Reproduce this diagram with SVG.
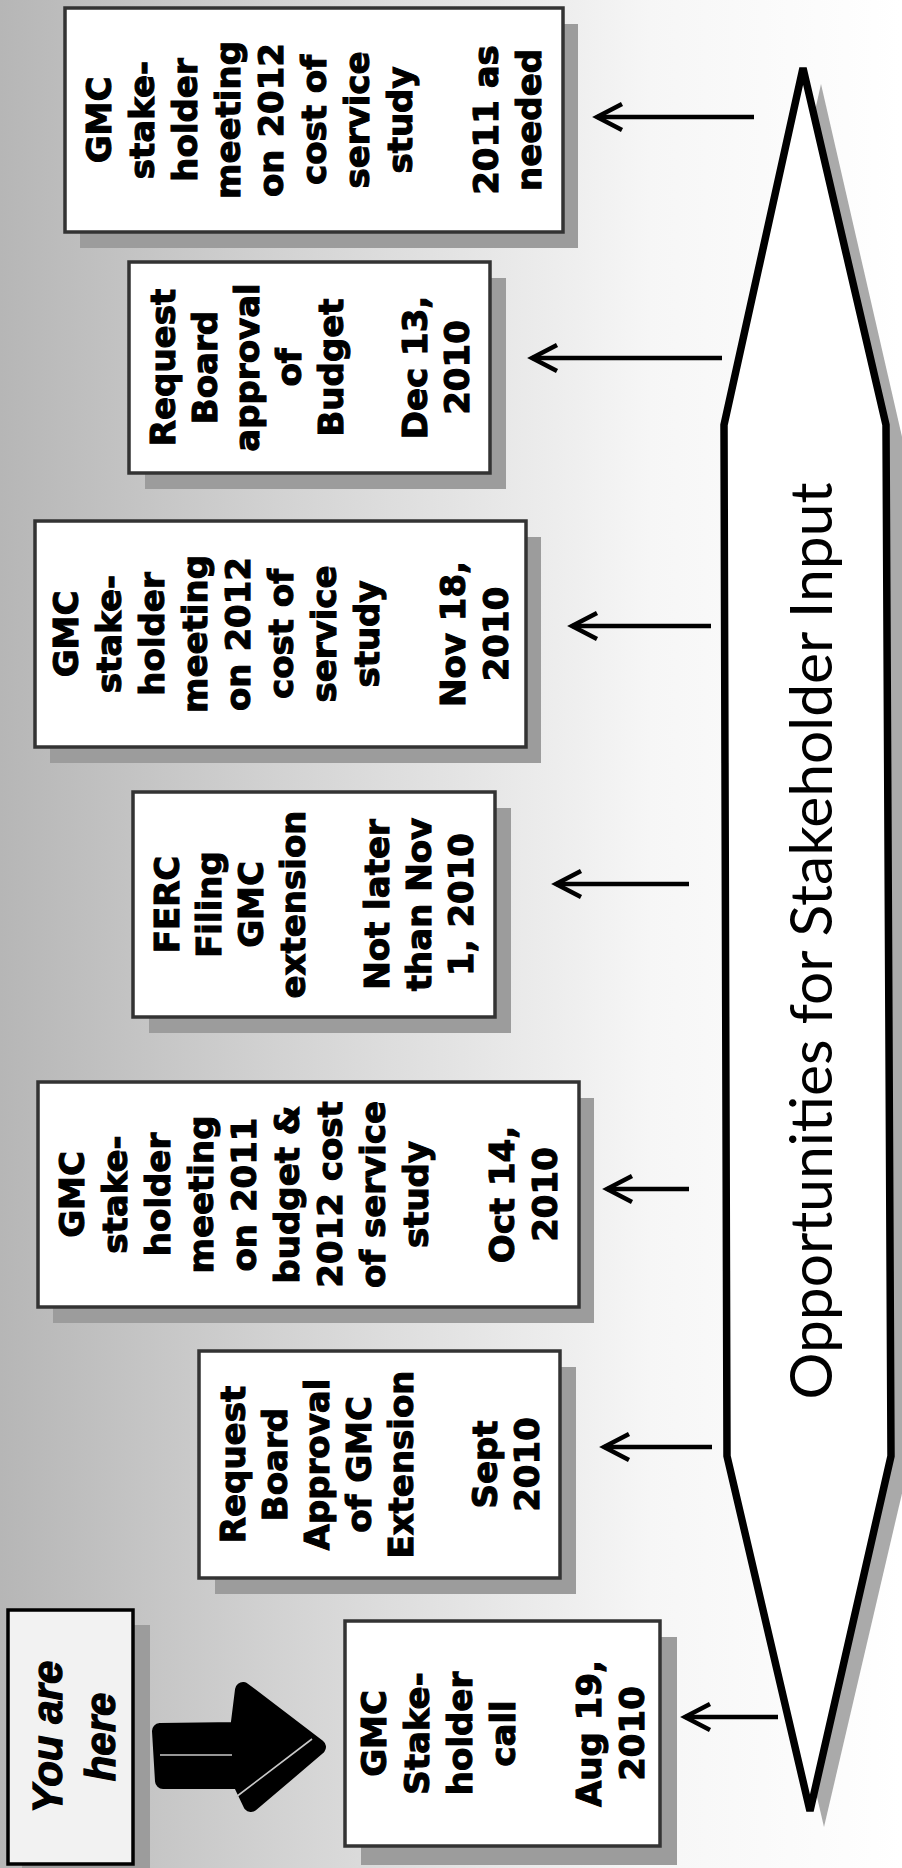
<svg xmlns="http://www.w3.org/2000/svg" width="902" height="1868" viewBox="0 0 902 1868">
<defs>
<linearGradient id="bg" x1="0" y1="0" x2="902" y2="0" gradientUnits="userSpaceOnUse">
<stop offset="0" stop-color="#b6b6b6"/>
<stop offset="0.35" stop-color="#d6d6d6"/>
<stop offset="0.72" stop-color="#f6f6f6"/>
<stop offset="1" stop-color="#ffffff"/>
</linearGradient>
<marker id="ah" markerUnits="userSpaceOnUse" markerWidth="40" markerHeight="40" viewBox="-30 -20 40 40" refX="0" refY="0" orient="auto">
<path d="M-25,-13 L0,0 L-25,13" fill="none" stroke="#000" stroke-width="4.5" stroke-linejoin="miter"/>
</marker>
<style>
.box{fill:#ffffff;stroke:#333;stroke-width:3.5}
.shadow{fill:#9c9c9c}
.t{font-family:"DejaVu Sans",Verdana,sans-serif;font-weight:bold;font-size:34px;fill:#000;stroke:#000;stroke-width:1.1;text-anchor:middle}
.conn{stroke:#000;stroke-width:4.5;fill:none;marker-end:url(#ah)}
</style>
</defs>
<rect x="0" y="0" width="902" height="1868" fill="url(#bg)"/>

<g id="opportunities">
<polygon points="821,84 741,441 741,1472 824,1827 907,1472 903,441" fill="#aaaaaa"/>
<polygon points="803,68 724,425 727,1456 810,1811 891,1456 886,425" fill="#ffffff" stroke="#000" stroke-width="7.5" stroke-linejoin="miter"/>
<text transform="translate(832,941) rotate(-90)" x="0" y="0" text-anchor="middle" font-family="Lato,'Open Sans',sans-serif" font-size="58" textLength="917" lengthAdjust="spacingAndGlyphs">Opportunities for Stakeholder Input</text>
</g>

<g id="node-2011">
<rect class="shadow" x="80" y="24" width="498" height="224"/>
<rect class="box" x="65" y="8" width="498" height="224"/>
<text class="t" transform="translate(314,120) rotate(-90)"><tspan x="0" y="-202.6">GMC</tspan><tspan x="0" y="-159.6">stake-</tspan><tspan x="0" y="-116.6">holder</tspan><tspan x="0" y="-73.6">meeting</tspan><tspan x="0" y="-30.6">on 2012</tspan><tspan x="0" y="12.4">cost of</tspan><tspan x="0" y="55.4">service</tspan><tspan x="0" y="98.4">study</tspan><tspan x="0" y="184.4">2011 as</tspan><tspan x="0" y="227.4">needed</tspan></text>
</g>

<g id="node-dec13">
<rect class="shadow" x="145" y="278" width="361" height="211"/>
<rect class="box" x="129" y="262" width="361" height="211"/>
<text class="t" transform="translate(309.5,367.5) rotate(-90)"><tspan x="0" y="-134.6">Request</tspan><tspan x="0" y="-92.6">Board</tspan><tspan x="0" y="-50.6">approval</tspan><tspan x="0" y="-8.6">of</tspan><tspan x="0" y="33.4">Budget</tspan><tspan x="0" y="117.4">Dec 13,</tspan><tspan x="0" y="159.4">2010</tspan></text>
</g>

<g id="node-nov18">
<rect class="shadow" x="50" y="537" width="491" height="226"/>
<rect class="box" x="35" y="521" width="491" height="226"/>
<text class="t" transform="translate(280.5,634) rotate(-90)"><tspan x="0" y="-202.6">GMC</tspan><tspan x="0" y="-159.6">stake-</tspan><tspan x="0" y="-116.6">holder</tspan><tspan x="0" y="-73.6">meeting</tspan><tspan x="0" y="-30.6">on 2012</tspan><tspan x="0" y="12.4">cost of</tspan><tspan x="0" y="55.4">service</tspan><tspan x="0" y="98.4">study</tspan><tspan x="0" y="184.4">Nov 18,</tspan><tspan x="0" y="227.4">2010</tspan></text>
</g>

<g id="node-ferc">
<rect class="shadow" x="149" y="808" width="362" height="225"/>
<rect class="box" x="133" y="792" width="362" height="225"/>
<text class="t" transform="translate(314,904.5) rotate(-90)"><tspan x="0" y="-134.6">FERC</tspan><tspan x="0" y="-92.6">Filing</tspan><tspan x="0" y="-50.6">GMC</tspan><tspan x="0" y="-8.6">extension</tspan><tspan x="0" y="75.4">Not later</tspan><tspan x="0" y="117.4">than Nov</tspan><tspan x="0" y="159.4">1, 2010</tspan></text>
</g>

<g id="node-oct14">
<rect class="shadow" x="53" y="1098" width="541" height="225"/>
<rect class="box" x="38" y="1082" width="541" height="225"/>
<text class="t" transform="translate(308.5,1194.5) rotate(-90)"><tspan x="0" y="-224.1">GMC</tspan><tspan x="0" y="-181.1">stake-</tspan><tspan x="0" y="-138.1">holder</tspan><tspan x="0" y="-95.1">meeting</tspan><tspan x="0" y="-52.1">on 2011</tspan><tspan x="0" y="-9.1">budget &amp;</tspan><tspan x="0" y="33.9">2012 cost</tspan><tspan x="0" y="76.9">of service</tspan><tspan x="0" y="119.9">study</tspan><tspan x="0" y="205.9">Oct 14,</tspan><tspan x="0" y="248.9">2010</tspan></text>
</g>

<g id="node-sept">
<rect class="shadow" x="215" y="1367" width="361" height="227"/>
<rect class="box" x="199" y="1351" width="361" height="227"/>
<text class="t" transform="translate(379.5,1464.5) rotate(-90)"><tspan x="0" y="-134.6">Request</tspan><tspan x="0" y="-92.6">Board</tspan><tspan x="0" y="-50.6">Approval</tspan><tspan x="0" y="-8.6">of GMC</tspan><tspan x="0" y="33.4">Extension</tspan><tspan x="0" y="117.4">Sept</tspan><tspan x="0" y="159.4">2010</tspan></text>
</g>

<g id="node-aug19">
<rect class="shadow" x="361" y="1637" width="316" height="228"/>
<rect class="box" x="345" y="1621" width="315" height="225"/>
<text class="t" transform="translate(502.5,1733.5) rotate(-90)"><tspan x="0" y="-116.6">GMC</tspan><tspan x="0" y="-73.6">Stake-</tspan><tspan x="0" y="-30.6">holder</tspan><tspan x="0" y="12.4">call</tspan><tspan x="0" y="98.4">Aug 19,</tspan><tspan x="0" y="141.4">2010</tspan></text>
</g>

<g id="you-are-here">
<rect class="shadow" x="22" y="1625" width="128" height="250"/>
<rect x="8" y="1610" width="125" height="254" fill="#f2f2f2" stroke="#000" stroke-width="3.5"/>
<text transform="translate(70.5,1737) rotate(-90)" font-family="'Liberation Sans',Arial,sans-serif" font-weight="bold" font-style="italic" font-size="42" stroke="#000" stroke-width="1.3" text-anchor="middle"><tspan x="0" y="-8.5">You are</tspan><tspan x="0" y="44.5">here</tspan></text>
</g>

<g id="big-arrow">
<polygon points="160,1731 238,1730 243,1690 318,1747 251,1804 240,1781 163,1781" fill="#000" stroke="#000" stroke-width="16" stroke-linejoin="round"/>
<path d="M160,1755 L232,1755 M236,1797 L312,1739" stroke="#c8c8c8" stroke-width="1.6" fill="none"/>
</g>

<g id="connectors">
<line class="conn" x1="754" y1="117" x2="597" y2="117"/>
<line class="conn" x1="722" y1="358" x2="532" y2="358"/>
<line class="conn" x1="711" y1="626" x2="572" y2="626"/>
<line class="conn" x1="689" y1="884" x2="556" y2="884"/>
<line class="conn" x1="689" y1="1189" x2="607" y2="1189"/>
<line class="conn" x1="712" y1="1447" x2="604" y2="1447"/>
<line class="conn" x1="778" y1="1717" x2="685" y2="1717"/>
</g>
</svg>
